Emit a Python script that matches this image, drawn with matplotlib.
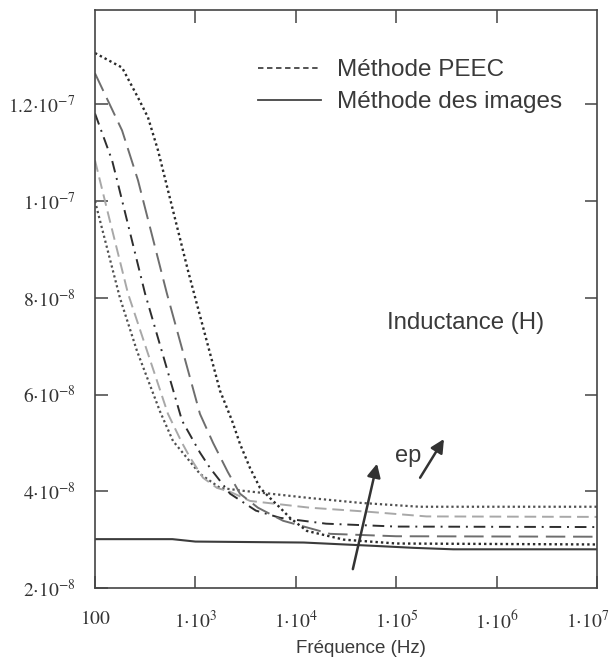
#!/usr/bin/env python3

import matplotlib
matplotlib.use("Agg")
import matplotlib.pyplot as plt
from matplotlib.lines import Line2D
from matplotlib.ticker import NullLocator
from matplotlib.transforms import ScaledTranslation

# courbes PEEC (valeurs en 1e-8 H), de la transition la plus tardive a la plus precoce
freq_a = [100, 186, 268, 337, 424, 844, 1757, 2317, 2780, 3500, 4400, 5540, 6970, 8750, 12900, 30000, 1e5, 1e7]
val_a = [13.06, 12.76, 12.14, 11.73, 11.05, 8.56, 6.08, 5.46, 4.98, 4.48, 4.07, 3.86, 3.66, 3.45, 3.18, 3.0, 2.92, 2.90]

freq_b = [100, 186, 268, 520, 1110, 1500, 2100, 2780, 4200, 7470, 21900, 1e5, 1e7]
val_b = [12.64, 11.46, 10.43, 8.09, 5.6, 5.0, 4.4, 3.95, 3.66, 3.39, 3.12, 3.07, 3.06]

freq_c = [100, 148, 166, 315, 736, 1110, 1400, 2213, 4000, 7000, 20000, 1e5, 1e7]
val_c = [11.81, 10.84, 10.43, 8.09, 5.46, 4.8, 4.48, 3.95, 3.6, 3.45, 3.33, 3.27, 3.26]

freq_d = [100, 135, 213, 533, 736, 883, 1190, 1640, 2213, 3500, 13800, 50000, 200000, 1e7]
val_d = [10.84, 9.74, 8.09, 5.6, 5.0, 4.7, 4.28, 4.07, 3.99, 3.8, 3.66, 3.58, 3.48, 3.47]

freq_e = [100, 107, 177, 262, 444, 598, 824, 1110, 1757, 2980, 5540, 13800, 44000, 170000, 1e7]
val_e = [10.0, 9.76, 8.0, 6.9, 5.65, 5.04, 4.69, 4.36, 4.07, 4.01, 3.95, 3.86, 3.76, 3.68, 3.68]

# methode des images
freq_img = [100, 590, 1000, 12000, 62000, 150000, 370000, 1e7]
val_img = [3.01, 3.01, 2.96, 2.94, 2.87, 2.83, 2.80, 2.80]

xticks = [1e2, 1e3, 1e4, 1e5, 1e6, 1e7]
xlabels = ["$100$", r"$1{\cdot}10^{3}$", r"$1{\cdot}10^{4}$", r"$1{\cdot}10^{5}$",
           r"$1{\cdot}10^{6}$", r"$1{\cdot}10^{7}$"]
yticks = [2e-8, 4e-8, 6e-8, 8e-8, 1e-7, 1.2e-7]
ylabels = [r"$2{\cdot}10^{-8}$", r"$4{\cdot}10^{-8}$", r"$6{\cdot}10^{-8}$",
           r"$8{\cdot}10^{-8}$", r"$1{\cdot}10^{-7}$", r"$1.2{\cdot}10^{-7}$"]


def main():
    plt.rcParams["font.family"] = ["Liberation Sans", "DejaVu Sans"]
    plt.rcParams["mathtext.fontset"] = "stix"

    fig = plt.figure(figsize=(6.13, 6.62), dpi=100)
    ax = fig.add_axes([95 / 613, 1 - 588 / 662, 502 / 613, 578 / 662])

    s = 1e-8
    ax.plot(freq_e, [v * s for v in val_e], color="#505050", lw=1.6, dashes=(1, 1.3))
    ax.plot(freq_d, [v * s for v in val_d], color="#a8a8a8", lw=1.4, dashes=(6, 3))
    ax.plot(freq_c, [v * s for v in val_c], color="#2e2e2e", lw=1.4, dashes=(6, 3, 1, 3))
    ax.plot(freq_b, [v * s for v in val_b], color="#6e6e6e", lw=1.4, dashes=(10, 4))
    ax.plot(freq_a, [v * s for v in val_a], color="#2a2a2a", lw=1.7, dashes=(1, 1.3))
    ax.plot(freq_img, [v * s for v in val_img], color="#3c3c3c", lw=1.5)

    ax.set_xscale("log")
    ax.set_xlim(1e2, 1e7)
    ax.set_ylim(2e-8, 1.395e-7)
    ax.set_xticks(xticks)
    ax.set_xticklabels(xlabels)
    ax.set_yticks(yticks)
    ax.set_yticklabels(ylabels)
    ax.minorticks_off()
    ax.tick_params(direction="in", length=9, width=1.1, color="#444444",
                   labelsize=14, labelcolor="#333333")
    ax.tick_params(axis="x", pad=16)
    ax.tick_params(axis="y", pad=14)
    # le dernier libelle est decale pour rester dans l'image
    lab = ax.get_xticklabels()[-1]
    lab.set_transform(lab.get_transform() + ScaledTranslation(-7 / 72, 0, fig.dpi_scale_trans))

    # graduations en haut et a droite, sans les extremites
    top = ax.secondary_xaxis("top")
    top.set_xticks(xticks[1:-1])
    top.xaxis.set_minor_locator(NullLocator())
    top.tick_params(direction="in", length=9, width=1.1, color="#444444", labeltop=False)
    top.spines["top"].set_visible(False)
    right = ax.secondary_yaxis("right")
    right.set_yticks(yticks[1:])
    right.yaxis.set_minor_locator(NullLocator())
    right.tick_params(direction="in", length=9, width=1.1, color="#444444", labelright=False)
    right.spines["right"].set_visible(False)
    for sp in ax.spines.values():
        sp.set_color("#444444")
        sp.set_linewidth(1.2)

    ax.set_xlabel("Fréquence (Hz)", fontsize=13.5, color="#3a3a3a")
    ax.xaxis.set_label_coords(0.53, -0.09)

    handles = [Line2D([], [], color="#444444", lw=1.3, dashes=(3, 2)),
               Line2D([], [], color="#444444", lw=1.3)]
    ax.legend(handles, ["Méthode PEEC", "Méthode des images"], loc="upper left",
              bbox_to_anchor=(0.325, 0.915), frameon=False, fontsize=17.5,
              handlelength=2.6, handletextpad=0.65, labelspacing=0.42,
              borderpad=0, borderaxespad=0, labelcolor="#3a3a3a")

    ax.text(0.739, 0.458, "Inductance (H)", transform=ax.transAxes, fontsize=17.3,
            color="#3a3a3a", ha="center", va="center")
    ax.text(0.623, 0.228, "ep", transform=ax.transAxes, fontsize=17,
            color="#3a3a3a", ha="center", va="center")

    arrow = dict(arrowstyle="-|>", lw=1.8, color="#333333", mutation_scale=20,
                 shrinkA=0, shrinkB=0)
    ax.annotate("", xy=(6.44e4, 4.57e-8), xytext=(3.7e4, 2.39e-8), arrowprops=arrow)
    ax.annotate("", xy=(2.99e5, 5.08e-8), xytext=(1.73e5, 4.28e-8), arrowprops=arrow)

    fig.savefig("out.png", dpi=100)


if __name__ == "__main__":
    main()
